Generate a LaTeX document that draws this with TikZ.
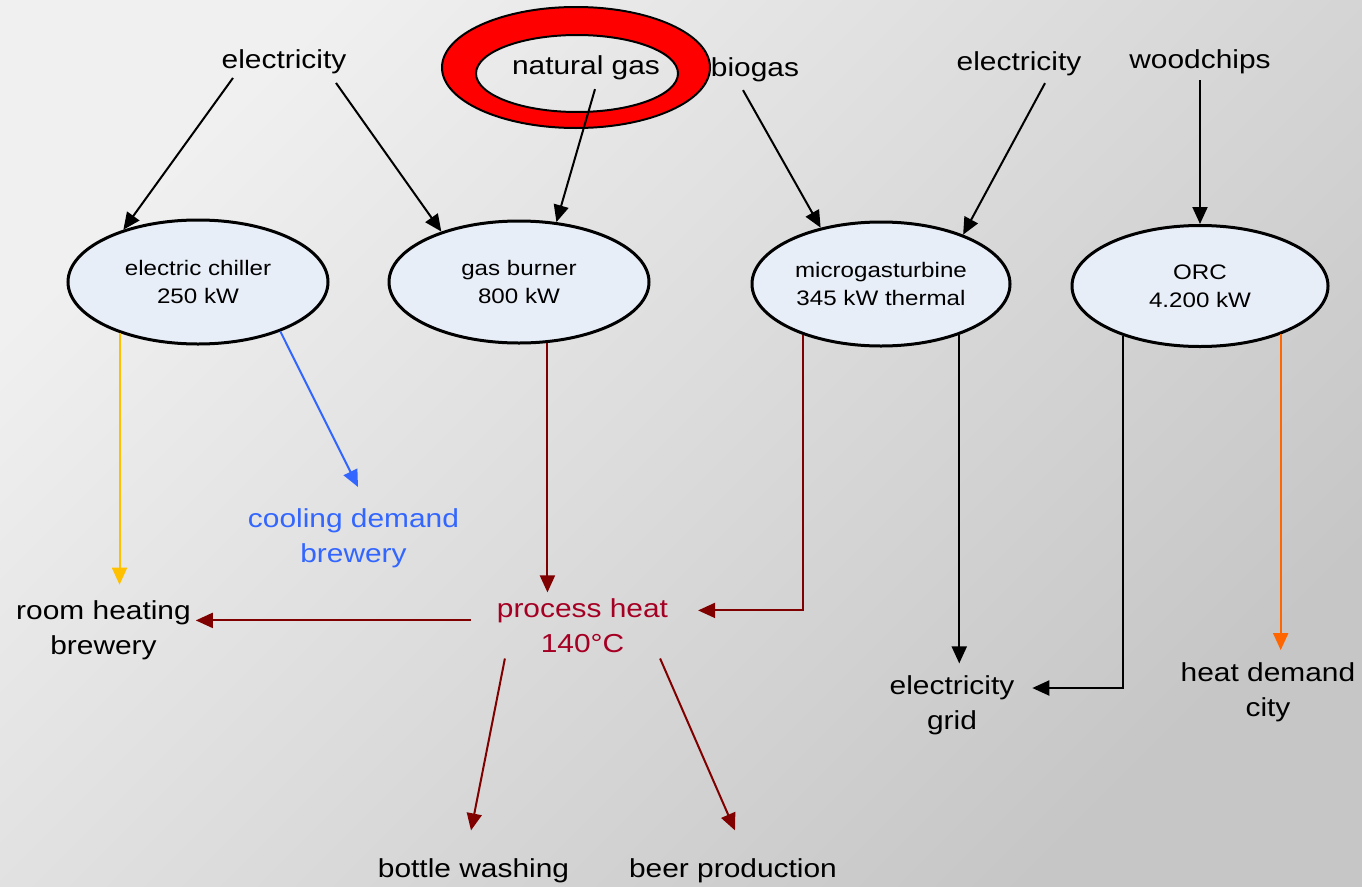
\documentclass[tikz,border=0pt]{standalone}
\usepackage{fontspec}
\setmainfont{Liberation Sans}[FakeStretch=1.15]
\usetikzlibrary{shapes.geometric,arrows.meta,calc}

\definecolor{bgA}{RGB}{240,240,240}
\definecolor{bgB}{RGB}{198,198,198}
\definecolor{unitfill}{RGB}{232,238,248}
\definecolor{flowred}{RGB}{128,0,0}
\definecolor{heattxt}{RGB}{165,0,36}
\definecolor{coolblue}{RGB}{51,102,255}
\definecolor{goldflow}{RGB}{255,192,0}
\definecolor{orangeflow}{RGB}{255,102,0}
\definecolor{ringred}{RGB}{255,0,0}

\newcommand\bigtxt{\fontsize{26}{35}\selectfont}
\newcommand\smalltxt{\fontsize{21}{28}\selectfont}

\tikzset{
  lbl/.style={inner sep=0pt, outer sep=0pt, anchor=north, align=center, font=\bigtxt},
  unit/.style={ellipse, draw=black, line width=3pt, fill=unitfill, inner sep=0pt,
               align=center, font=\smalltxt},
  flow/.style={line width=2pt, -{Triangle[length=17pt,width=15pt]}},
}

\begin{document}
\begin{tikzpicture}[x=1pt,y=-1pt]
  % page and diagonal grey background
  \useasboundingbox (0,0) rectangle (1362,886);
  \shade[top color=bgA, bottom color=bgB, shading angle=45] (0,0) rectangle (1362,886);

  % red ring around the natural gas source
  \draw[line width=2pt, fill=ringred, even odd rule]
    (576,67.5) ellipse [x radius=134, y radius=60.5]
    (577,73.5) ellipse [x radius=101, y radius=38.5];

  % energy sources
  \node[lbl] (elecL)  at (284,49.7)  {electricity};
  \node[lbl] (gas)    at (586,55.4)  {natural gas};
  \node[lbl] (biogas) at (755,57.4)  {biogas};
  \node[lbl] (elecR)  at (1019,51.4) {electricity};
  \node[lbl] (wood)   at (1200,49.4) {woodchips};

  % conversion units
  \node[unit, minimum width=260pt, minimum height=124pt] (chiller) at (198,282)  {electric chiller\\250 kW};
  \node[unit, minimum width=260pt, minimum height=122pt] (burner)  at (519,282)  {gas burner\\800 kW};
  \node[unit, minimum width=258pt, minimum height=124pt] (micro)   at (881,284)  {microgasturbine\\345 kW thermal};
  \node[unit, minimum width=256pt, minimum height=121pt] (ORC)     at (1200,286) {ORC\\4.200 kW};

  % demands
  \node[lbl, text=coolblue] (cool) at (353.5,508.7) {cooling demand\\brewery};
  \node[lbl] (room)   at (103.5,600.7) {room heating\\brewery};
  \node[lbl, text=heattxt] (proc) at (582.5,598.4) {process heat\\140°C};
  \node[lbl] (grid)   at (952,675.4)  {electricity\\grid};
  \node[lbl] (heat)   at (1268,663.1) {heat demand\\city};
  \node[lbl] (bottle) at (473.5,858.4) {bottle washing};
  \node[lbl] (beer)   at (733,858.4)   {beer production};

  % inputs to the units
  \draw[flow] ($(elecL.south)+(-51,4)$) -- (chiller.145);
  \draw[flow] ($(elecL.south)+(52,9)$) -- (burner.147);
  \draw[flow] ($(gas.south)+(9,9.5)$) -- (burner.58);
  \draw[flow] ($(biogas.south)+(-12,8.5)$) -- (micro.137);
  \draw[flow] ($(elecR.south)+(26,7.5)$) -- (micro.31);
  \draw[flow] ($(wood.south)+(0,6.5)$) -- (ORC.north);

  % outputs of the units
  \draw[flow, goldflow] (chiller.-147) -- ($(chiller.-147 |- room.north)+(0,-16)$);
  \draw[flow, coolblue] (chiller.-31) -- ($(cool.north)+(4.5,-21.7)$);
  \draw[flow, flowred] (burner.-65) -- ($(burner.-65 |- proc.north)+(0,-6)$);
  \draw[flow, flowred] (micro.-147) |- ($(proc.north east)+(30,12)$);
  \draw[flow] (micro.-33) -- ($(micro.-33 |- grid.north)+(0,-12)$);
  \draw[flow] (ORC.-147) |- ($(grid.north east)+(18,12.6)$);
  \draw[flow, orangeflow] (ORC.-31) -- ($(ORC.-31 |- heat.north)+(0,-13)$);

  % process heat distribution
  \draw[flow, flowred] ($(proc.north west)+(-26,22)$) -- ($(room.north east |- proc.north)+(5,22)$);
  \draw[flow, flowred] ($(proc.south west)+(8,6)$) -- ($(bottle.north)+(-2.5,-28)$);
  \draw[flow, flowred] ($(proc.south east)+(-8,6)$) -- ($(beer.north)+(2,-28)$);
\end{tikzpicture}
\end{document}
